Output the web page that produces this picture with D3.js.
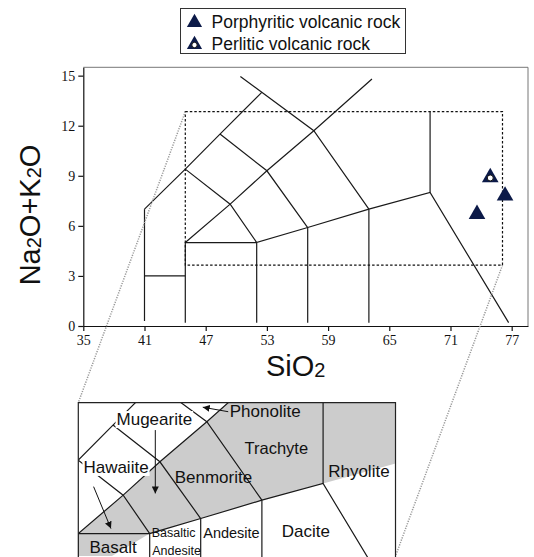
<!DOCTYPE html>
<html>
<head>
<meta charset="utf-8">
<script src="https://cdn.jsdelivr.net/npm/d3@7"></script>
<style>
  body { margin: 0; background: #fff; }
  .tick text { font-family: "Liberation Serif", "Times New Roman", serif; font-size: 14px; fill: #111; }
  .field { font-family: "Liberation Sans", Arial, sans-serif; fill: #111; }
</style>
</head>
<body>
<div id="tas"></div>
<script>
// tick labels
var xTicks = [35, 41, 47, 53, 59, 65, 71, 77];
var yTicks = [0, 3, 6, 9, 12, 15];

// TAS field boundaries (SiO2, Na2O+K2O)
var tasLines = [
  [[41, 0.3], [41, 7]],
  [[41, 3], [45, 3]],
  [[45, 0.2], [45, 5], [52, 5]],
  [[52, 0.2], [52, 5], [57, 5.9], [63, 7], [69, 8], [76.7, 0.2]],
  [[57, 0.2], [57, 5.9]],
  [[63, 0.2], [63, 7]],
  [[69, 8], [69, 12.85]],
  [[41, 7], [45, 9.4], [48.4, 11.5], [52.5, 14]],
  [[50.4, 14.95], [52.5, 14], [57.6, 11.7], [63, 7]],
  [[45, 9.4], [49.4, 7.3], [52, 5]],
  [[45, 5], [49.4, 7.3], [53, 9.3], [57.6, 11.7], [63.3, 14.8]],
  [[48.4, 11.5], [53, 9.3], [57, 5.9]]
];

// samples
var porphyritic = [[73.6, 6.7], [76.35, 7.8]];
var perlitic = [[74.9, 8.9]];

// enlarged window [SiO2 min, SiO2 max, alk min, alk max]
var zoomBox = [45, 76.1, 3.65, 12.84];

// shaded (alkaline) field in the enlargement
var alkaliField = [[45, 3.65], [48.3, 3.65], [52, 5], [57, 5.9], [63, 7], [69, 8],
  [76.1, 9.2], [76.1, 12.84], [59.6, 12.84], [57.6, 11.7], [53, 9.3], [49.4, 7.3], [45, 5]];

// field names in the enlargement
var fieldLabels = [
  {name: "Mugearite", x: 48.75, y: 11.5, size: 17, bg: true},
  {name: "Phonolite", x: 59.85, y: 12.0, size: 17},
  {name: "Trachyte", x: 61.3, y: 9.77, size: 16.5},
  {name: "Hawaiite", x: 45.5, y: 8.63, size: 17, bg: true},
  {name: "Benmorite", x: 54.45, y: 8.03, size: 17},
  {name: "Rhyolite", x: 69.5, y: 8.41, size: 17},
  {name: "Dacite", x: 64.95, y: 4.81, size: 17},
  {name: "Andesite", x: 57.25, y: 4.73, size: 14.5},
  {name: "Basaltic", x: 52.2, y: 4.79, size: 12.5},
  {name: "Andesite", x: 52.25, y: 3.71, size: 12.5},
  {name: "Basalt", x: 46.1, y: 3.85, size: 17}
];

// pointer arrows in the enlargement
var arrows = [
  [[59.7, 12.3], [57.2, 12.57]],
  [[52.55, 11.2], [52.55, 7.4]],
  [[46.5, 7.81], [48.2, 5.3]]
];

var width = 534, height = 557;

var svg = d3.select("#tas").append("svg")
    .attr("width", width)
    .attr("height", height);

// set the ranges
var x = d3.scaleLinear().domain([35, 78.6]).range([83.3, 528]);
var y = d3.scaleLinear().domain([0, 15.5]).range([326, 67.3]);

var line = d3.line()
    .x(function(d) { return x(d[0]); })
    .y(function(d) { return y(d[1]); });

var defs = svg.append("defs");
defs.append("marker")
    .attr("id", "arrow")
    .attr("viewBox", "0 0 10 10")
    .attr("refX", 10).attr("refY", 5)
    .attr("markerWidth", 7).attr("markerHeight", 7)
    .attr("markerUnits", "userSpaceOnUse")
    .attr("orient", "auto")
  .append("path")
    .attr("d", "M0,0L10,5L0,10z")
    .attr("fill", "#111");

// top and right frame
svg.append("path")
    .attr("d", "M" + x(35) + "," + y(15.5) + "H" + x(78.6) + "V" + y(0))
    .attr("fill", "none")
    .attr("stroke", "#777")
    .attr("stroke-width", 1);

// axes
svg.append("g")
    .attr("transform", "translate(0," + y(0) + ")")
    .call(d3.axisBottom(x).tickValues(xTicks).tickSize(5).tickSizeOuter(0).tickPadding(4));

svg.append("g")
    .attr("transform", "translate(" + x(35) + ",0)")
    .call(d3.axisLeft(y).tickValues(yTicks).tickSize(5).tickSizeOuter(0).tickPadding(3));

svg.selectAll(".domain, .tick line").attr("stroke", "#111").attr("stroke-width", 1.2);

// field boundaries
svg.append("g").selectAll("path")
    .data(tasLines)
  .enter().append("path")
    .attr("d", line)
    .attr("fill", "none")
    .attr("stroke", "#1a1a1a")
    .attr("stroke-width", 1.2);

// dashed window
svg.append("rect")
    .attr("x", x(zoomBox[0]))
    .attr("y", y(zoomBox[3]))
    .attr("width", x(zoomBox[1]) - x(zoomBox[0]))
    .attr("height", y(zoomBox[2]) - y(zoomBox[3]))
    .attr("fill", "none")
    .attr("stroke", "#111")
    .attr("stroke-width", 1.2)
    .attr("stroke-dasharray", "2.5,2");

// enlargement: same scale, shifted down-left
var panelX = 78.3, panelY = 402.7;
var dx = panelX - x(zoomBox[0]), dy = panelY - y(zoomBox[3]);
var boxW = x(zoomBox[1]) - x(zoomBox[0]), boxH = y(zoomBox[2]) - y(zoomBox[3]);

// connector lines
var connectors = [
  [[x(zoomBox[0]), y(zoomBox[3])], [panelX, panelY]],
  [[x(zoomBox[1]), y(zoomBox[2])], [panelX + boxW, panelY + boxH]]
];
svg.append("g").selectAll("line")
    .data(connectors)
  .enter().append("line")
    .attr("x1", function(d) { return d[0][0]; })
    .attr("y1", function(d) { return d[0][1]; })
    .attr("x2", function(d) { return d[1][0]; })
    .attr("y2", function(d) { return d[1][1]; })
    .attr("stroke", "#999")
    .attr("stroke-width", 1.5)
    .attr("stroke-dasharray", "1.2,1.3");

defs.append("clipPath")
    .attr("id", "boxclip")
  .append("rect")
    .attr("x", x(zoomBox[0]))
    .attr("y", y(zoomBox[3]))
    .attr("width", boxW)
    .attr("height", boxH + 10);

var panel = svg.append("g")
    .attr("transform", "translate(" + dx + "," + dy + ")");

var inner = panel.append("g").attr("clip-path", "url(#boxclip)");

inner.append("path")
    .datum(alkaliField)
    .attr("d", line)
    .attr("fill", "#cccccc");

inner.append("g").selectAll("path")
    .data(tasLines)
  .enter().append("path")
    .attr("d", line)
    .attr("fill", "none")
    .attr("stroke", "#1a1a1a")
    .attr("stroke-width", 1.2);

// panel border (left, top, right; bottom runs off the page)
panel.append("path")
    .attr("d", "M" + x(zoomBox[0]) + "," + (y(zoomBox[2]) + 10) +
               "V" + y(zoomBox[3]) + "H" + x(zoomBox[1]) + "V" + (y(zoomBox[2]) + 10))
    .attr("fill", "none")
    .attr("stroke", "#222")
    .attr("stroke-width", 1.2);

panel.append("g").selectAll("path")
    .data(arrows)
  .enter().append("path")
    .attr("d", line)
    .attr("stroke", "#111")
    .attr("stroke-width", 1)
    .attr("marker-end", "url(#arrow)");

var labels = panel.append("g").selectAll("g")
    .data(fieldLabels)
  .enter().append("g");

labels.append("text")
    .attr("class", "field")
    .attr("x", function(d) { return x(d.x); })
    .attr("y", function(d) { return y(d.y); })
    .style("font-size", function(d) { return d.size + "px"; })
    .text(function(d) { return d.name; });

// white boxes behind the labels that hide the boundary lines
labels.filter(function(d) { return d.bg; }).each(function() {
  var g = d3.select(this);
  var b = g.select("text").node().getBBox();
  g.insert("rect", "text")
      .attr("x", b.x - 1).attr("y", b.y + 1)
      .attr("width", b.width + 2).attr("height", b.height - 2)
      .attr("fill", "#fff");
});

// samples
var navy = "#0c1a48";
svg.append("g").selectAll("path")
    .data(porphyritic)
  .enter().append("path")
    .attr("transform", function(d) { return "translate(" + x(d[0]) + "," + y(d[1]) + ")"; })
    .attr("d", d3.symbol().type(d3.symbolTriangle).size(120))
    .attr("fill", navy);

var perl = svg.append("g").selectAll("g")
    .data(perlitic)
  .enter().append("g")
    .attr("transform", function(d) { return "translate(" + x(d[0]) + "," + y(d[1]) + ")"; });
perl.append("path")
    .attr("d", d3.symbol().type(d3.symbolTriangle).size(120))
    .attr("fill", navy);
perl.append("circle")
    .attr("cy", 0.5).attr("r", 3)
    .attr("fill", "#fff")
    .attr("stroke", "#111")
    .attr("stroke-width", 1);

// axis titles
var xTitle = svg.append("text")
    .attr("x", 266)
    .attr("y", 376)
    .style("font-family", "Liberation Sans, Arial, sans-serif")
    .style("font-size", "29px")
    .attr("fill", "#111");
xTitle.append("tspan").text("SiO");
xTitle.append("tspan").style("font-size", "20px").attr("dy", 1).text("2");

var yTitle = svg.append("text")
    .attr("transform", "translate(40,215) rotate(-90)")
    .attr("text-anchor", "middle")
    .style("font-family", "Liberation Sans, Arial, sans-serif")
    .style("font-size", "29px")
    .attr("fill", "#111");
yTitle.append("tspan").text("Na");
yTitle.append("tspan").style("font-size", "20px").attr("dy", 1).text("2");
yTitle.append("tspan").attr("dy", -1).text("O+K");
yTitle.append("tspan").style("font-size", "20px").attr("dy", 1).text("2");
yTitle.append("tspan").attr("dy", -1).text("O");

// legend
var legend = svg.append("g");
legend.append("rect")
    .attr("x", 180.5).attr("y", 8.5)
    .attr("width", 225).attr("height", 45)
    .attr("fill", "#fff")
    .attr("stroke", "#333")
    .attr("stroke-width", 1);

legend.append("path")
    .attr("transform", "translate(194.5,22.5)")
    .attr("d", d3.symbol().type(d3.symbolTriangle).size(100))
    .attr("fill", navy);
legend.append("path")
    .attr("transform", "translate(194.5,44.5)")
    .attr("d", d3.symbol().type(d3.symbolTriangle).size(100))
    .attr("fill", navy);
legend.append("circle")
    .attr("cx", 194.5).attr("cy", 45).attr("r", 2.7)
    .attr("fill", "#fff")
    .attr("stroke", "#111")
    .attr("stroke-width", 1);

legend.selectAll("text")
    .data(["Porphyritic volcanic rock", "Perlitic volcanic rock"])
  .enter().append("text")
    .attr("x", 211.5)
    .attr("y", function(d, i) { return 27.5 + i * 22; })
    .style("font-family", "Liberation Sans, Arial, sans-serif")
    .style("font-size", "17.5px")
    .attr("fill", "#111")
    .text(function(d) { return d; });
</script>
</body>
</html>
